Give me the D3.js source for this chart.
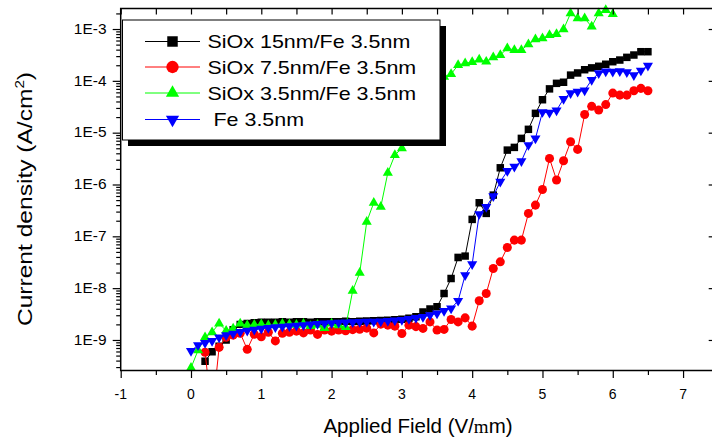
<!DOCTYPE html>
<html>
<head>
<meta charset="utf-8">
<script src="https://cdn.jsdelivr.net/npm/d3@7/dist/d3.min.js"></script>
<style>
  html, body { margin: 0; padding: 0; background: #fff; }
  svg { display: block; font-family: "Liberation Sans", Arial, sans-serif; }
</style>
</head>
<body>
<svg id="chart" width="712" height="443"></svg>
<script>
// Applied field (V/um), sampled every 0.1
const field = [0.0, 0.1, 0.2, 0.3, 0.4, 0.5, 0.6, 0.7, 0.8, 0.9,
  1.0, 1.1, 1.2, 1.3, 1.4, 1.5, 1.6, 1.7, 1.8, 1.9,
  2.0, 2.1, 2.2, 2.3, 2.4, 2.5, 2.6, 2.7, 2.8, 2.9,
  3.0, 3.1, 3.2, 3.3, 3.4, 3.5, 3.6, 3.7, 3.8, 3.9,
  4.0, 4.1, 4.2, 4.3, 4.4, 4.5, 4.6, 4.7, 4.8, 4.9,
  5.0, 5.1, 5.2, 5.3, 5.4, 5.5, 5.6, 5.7, 5.8, 5.9,
  6.0, 6.1, 6.2, 6.3, 6.4, 6.5];

// Current density (A/cm^2); null = not measured
const siox15 = [null, null, 3.9e-10, 5.9e-10, 7.6e-10, 1.0e-9, 1.58e-9, 2.0e-9, 2.08e-9, 2.14e-9,
  2.19e-9, 2.21e-9, 2.19e-9, 2.24e-9, 2.21e-9, 2.26e-9, 2.24e-9, 2.21e-9, 2.26e-9, 2.24e-9,
  2.26e-9, 2.24e-9, 2.29e-9, 2.26e-9, 2.29e-9, 2.32e-9, 2.34e-9, 2.37e-9, 2.40e-9, 2.45e-9,
  2.51e-9, 2.63e-9, 2.82e-9, 3.48e-9, 3.94e-9, 4.36e-9, 7.9e-9, 1.54e-8, 3.92e-8, 4.15e-8,
  2.12e-7, 4.44e-7, 2.77e-7, 6.24e-7, 2.10e-6, 4.61e-6, 5.2e-6, 7.76e-6, 1.16e-5, 2.36e-5,
  4.32e-5, 7.0e-5, 8.95e-5, 9.4e-5, 1.29e-4, 1.42e-4, 1.64e-4, 1.78e-4, 1.91e-4, 2.09e-4,
  2.34e-4, 2.52e-4, 2.84e-4, 3.15e-4, 3.65e-4, 3.65e-4];

const siox75 = [null, null, 5.8e-10, 3.5e-11, 7.2e-10, 1.13e-9, 1.24e-9, 1.35e-9, 6.6e-10, 1.29e-9,
  1.15e-9, 1.41e-9, 9.6e-10, 1.35e-9, 1.41e-9, 1.48e-9, 1.37e-9, 1.55e-9, 1.28e-9, 1.55e-9,
  1.48e-9, 1.55e-9, 1.51e-9, 1.58e-9, 1.61e-9, 1.69e-9, 1.37e-9, 2.02e-9, 1.93e-9, 1.85e-9,
  1.33e-9, 1.93e-9, 1.81e-9, 1.67e-9, 2.23e-9, 1.55e-9, 1.60e-9, 2.49e-9, 2.23e-9, 2.67e-9,
  1.85e-9, 5.7e-9, 7.9e-9, 2.40e-8, 3.22e-8, 6.1e-8, 8.45e-8, 8.45e-8, 2.77e-7, 4.0e-7,
  8.0e-7, 3.19e-6, 1.22e-6, 2.87e-6, 6.67e-6, 4.76e-6, 2.24e-5, 3.22e-5, 2.73e-5, 3.48e-5,
  5.8e-5, 5.3e-5, 5.3e-5, 6.44e-5, 7.16e-5, 6.44e-5];

const siox35 = [2.9e-10, 6.3e-10, 1.12e-9, 1.41e-9, 2.08e-9, 1.51e-9, 1.66e-9, 2.08e-9, 1.91e-9, 1.95e-9,
  2.0e-9, 1.91e-9, 1.95e-9, 2.04e-9, 2.0e-9, 1.95e-9, 2.04e-9, 1.86e-9, 1.95e-9, 1.70e-9,
  2.08e-9, 1.91e-9, 1.77e-9, 8.9e-9, 1.97e-8, 1.91e-7, 4.44e-7, 3.71e-7, 1.68e-6, 3.70e-6,
  4.98e-6, 1.12e-5, 2.5e-5, 4.5e-5, 7.1e-5, 1.0e-4, 1.2e-4, 1.35e-4, 2.02e-4, 2.18e-4,
  2.31e-4, 2.58e-4, 2.34e-4, 2.84e-4, 3.15e-4, 4.24e-4, 3.94e-4, 3.94e-4, 5.07e-4, 6.32e-4,
  6.61e-4, 7.66e-4, 8.0e-4, 9.86e-4, 2.01e-3, 1.61e-3, 1.61e-3, 1.11e-3, 2.01e-3, 2.33e-3,
  1.95e-3, null, null, null, null, null];

const fe35 = [6.17e-10, 7.94e-10, 8.79e-10, 9.62e-10, 1.12e-9, 1.24e-9, 1.33e-9, 1.43e-9, 1.51e-9, 1.58e-9,
  1.65e-9, 1.71e-9, 1.77e-9, 1.81e-9, 1.85e-9, 1.89e-9, 1.93e-9, 1.99e-9, 2.04e-9, 2.08e-9,
  2.11e-9, 2.15e-9, 2.19e-9, 2.21e-9, 2.23e-9, 2.25e-9, 2.26e-9, 2.29e-9, 2.33e-9, 2.39e-9,
  2.45e-9, 2.54e-9, 2.66e-9, 2.79e-9, 3.01e-9, 3.25e-9, 3.65e-9, 4.06e-9, 5.7e-9, 1.78e-8,
  2.90e-8, 2.69e-7, 3.71e-7, 5.97e-7, 1.13e-6, 1.82e-6, 2.20e-6, 2.83e-6, 5.77e-6, 7.76e-6,
  2.50e-5, 2.42e-5, 2.70e-5, 4.50e-5, 5.81e-5, 6.17e-5, 6.56e-5, 1.04e-4, 1.40e-4, 1.52e-4,
  1.50e-4, 1.53e-4, 1.47e-4, 1.29e-4, 1.58e-4, 1.97e-4];

const seriesLabels = ["SiOx 15nm/Fe 3.5nm", "SiOx 7.5nm/Fe 3.5nm", "SiOx 3.5nm/Fe 3.5nm", " Fe 3.5nm"];
const xTickValues = [-1, 0, 1, 2, 3, 4, 5, 6, 7];
const yTickValues = [1e-9, 1e-8, 1e-7, 1e-6, 1e-5, 1e-4, 1e-3];

// ---- drawing ----
const svg = d3.select("#chart");
const plotLeft = 120.7, plotRight = 714.7, plotTop = 8.5, plotBottom = 370.5;

const x = d3.scaleLinear().domain([-1, 7.45]).range([plotLeft, plotRight]);
const y = d3.scaleLog().domain([Math.pow(10, -9.589), Math.pow(10, -2.604)]).range([plotBottom, plotTop]);

const styles = [
  { color: "#000000", shape: d3.symbolSquare, size: 56, legendSize: 110, rot: 0 },
  { color: "#ff0000", shape: d3.symbolCircle, size: 64, legendSize: 120, rot: 0 },
  { color: "#00ff00", shape: d3.symbolTriangle, size: 44, legendSize: 76, rot: 0 },
  { color: "#0000ff", shape: d3.symbolTriangle, size: 44, legendSize: 76, rot: 180 }
];
const seriesValues = [siox15, siox75, siox35, fe35];

svg.append("defs").append("clipPath").attr("id", "plotClip")
  .append("rect").attr("x", plotLeft).attr("y", 0).attr("width", plotRight - plotLeft).attr("height", plotBottom);

const plot = svg.append("g").attr("clip-path", "url(#plotClip)");

seriesValues.forEach((vals, i) => {
  const st = styles[i];
  const pts = field.map((f, k) => ({ f, v: vals[k] })).filter(d => d.v != null);
  const line = d3.line().x(d => x(d.f)).y(d => y(d.v));
  const g = plot.append("g");
  g.append("path").datum(pts)
    .attr("d", line).attr("fill", "none")
    .attr("stroke", st.color).attr("stroke-width", 1);
  g.selectAll("path.mk").data(pts).join("path")
    .attr("class", "mk")
    .attr("d", d3.symbol().type(st.shape).size(st.size))
    .attr("transform", d => `translate(${x(d.f)},${y(d.v)}) rotate(${st.rot})`)
    .attr("fill", st.color);
});

// ---- axes ----
const minorX = d3.range(-1, 7.5, 0.5).filter(v => Math.abs(v - Math.round(v)) > 0.01);
const minorY = [];
for (let e = -10; e <= -3; e++) for (let m = 2; m <= 9; m++) {
  const v = m * Math.pow(10, e);
  if (v > y.domain()[0] && v < y.domain()[1]) minorY.push(v);
}
const allX = d3.range(-1, 7.5, 0.5);

function styleAxis(g) {
  g.select(".domain").remove();
  g.selectAll(".tick line").attr("stroke", "#000").attr("stroke-width", 1.2);
  g.selectAll(".tick text").remove();
}

// bottom: majors + minors, outward
svg.append("g").attr("transform", `translate(0,${plotBottom})`)
  .call(d3.axisBottom(x).tickValues(xTickValues).tickSize(7.5)).call(styleAxis);
svg.append("g").attr("transform", `translate(0,${plotBottom})`)
  .call(d3.axisBottom(x).tickValues(minorX).tickSize(4.5)).call(styleAxis);
// top: every half unit, inward
svg.append("g").attr("transform", `translate(0,${plotTop})`)
  .call(d3.axisTop(x).tickValues(allX.filter(v => v < 7.45)).tickSizeInner(-6).tickSizeOuter(0)).call(styleAxis);
// left: majors + minors, outward
svg.append("g").attr("transform", `translate(${plotLeft},0)`)
  .call(d3.axisLeft(y).tickValues(yTickValues).tickSize(8)).call(styleAxis);
svg.append("g").attr("transform", `translate(${plotLeft},0)`)
  .call(d3.axisLeft(y).tickValues(minorY).tickSize(4.5)).call(styleAxis);
// right: majors inward
svg.append("g").attr("transform", `translate(${plotRight},0)`)
  .call(d3.axisRight(y).tickValues(yTickValues).tickSizeInner(-6).tickSizeOuter(0)).call(styleAxis);

// frame
svg.append("rect").attr("x", plotLeft).attr("y", plotTop)
  .attr("width", plotRight - plotLeft).attr("height", plotBottom - plotTop)
  .attr("fill", "none").attr("stroke", "#000").attr("stroke-width", 1.5);

// tick labels
svg.append("g").selectAll("text").data(xTickValues).join("text")
  .attr("x", d => x(d)).attr("y", 398.5)
  .attr("text-anchor", "middle").attr("font-size", 14).attr("fill", "#000")
  .text(d => String(d));

svg.append("g").selectAll("g").data(yTickValues).join("g")
  .attr("transform", d => `translate(106.5,${y(d) + 4.8})`)
  .append("text")
  .attr("text-anchor", "end").attr("font-size", 13.8).attr("fill", "#000")
  .attr("transform", "scale(1.12,1)")
  .text(d => "1E" + Math.round(Math.log10(d)));

// axis titles
const xt = svg.append("text").attr("x", 418).attr("y", 432.5)
  .attr("text-anchor", "middle").attr("font-size", 20.5).attr("fill", "#000");
xt.append("tspan").text("Applied Field (V/");
xt.append("tspan").attr("font-family", "'Liberation Serif', serif").attr("font-size", 19).text("m");
xt.append("tspan").text("m)");

const yt = svg.append("g").attr("transform", "translate(31.5,199) rotate(-90)")
  .append("text").attr("text-anchor", "middle").attr("font-size", 21)
  .attr("fill", "#000").attr("transform", "scale(1.17,1)");
yt.append("tspan").text("Current density (A/cm");
yt.append("tspan").attr("font-size", 13).attr("dy", -8).text("2");
yt.append("tspan").attr("dy", 8).text(")");

// ---- legend ----
const lg = svg.append("g");
lg.append("rect").attr("x", 128).attr("y", 26).attr("width", 318).attr("height", 120).attr("fill", "#000");
lg.append("rect").attr("x", 122.5).attr("y", 20).attr("width", 317.5).attr("height", 120)
  .attr("fill", "#fff").attr("stroke", "#000").attr("stroke-width", 1);
const rowY = [41.5, 67, 93, 119.5];
seriesLabels.forEach((label, i) => {
  const st = styles[i];
  const ry = rowY[i];
  lg.append("line").attr("x1", 145).attr("x2", 200).attr("y1", ry).attr("y2", ry)
    .attr("stroke", st.color).attr("stroke-width", 1);
  lg.append("path").attr("d", d3.symbol().type(st.shape).size(st.legendSize))
    .attr("transform", `translate(172.5,${ry}) rotate(${st.rot})`).attr("fill", st.color);
  lg.append("g").attr("transform", `translate(207.5,${ry + 6.8})`)
    .append("text").attr("font-size", 19).attr("fill", "#000")
    .style("white-space", "pre")
    .attr("transform", "scale(1.13,1)").text(label);
});
</script>
</body>
</html>
